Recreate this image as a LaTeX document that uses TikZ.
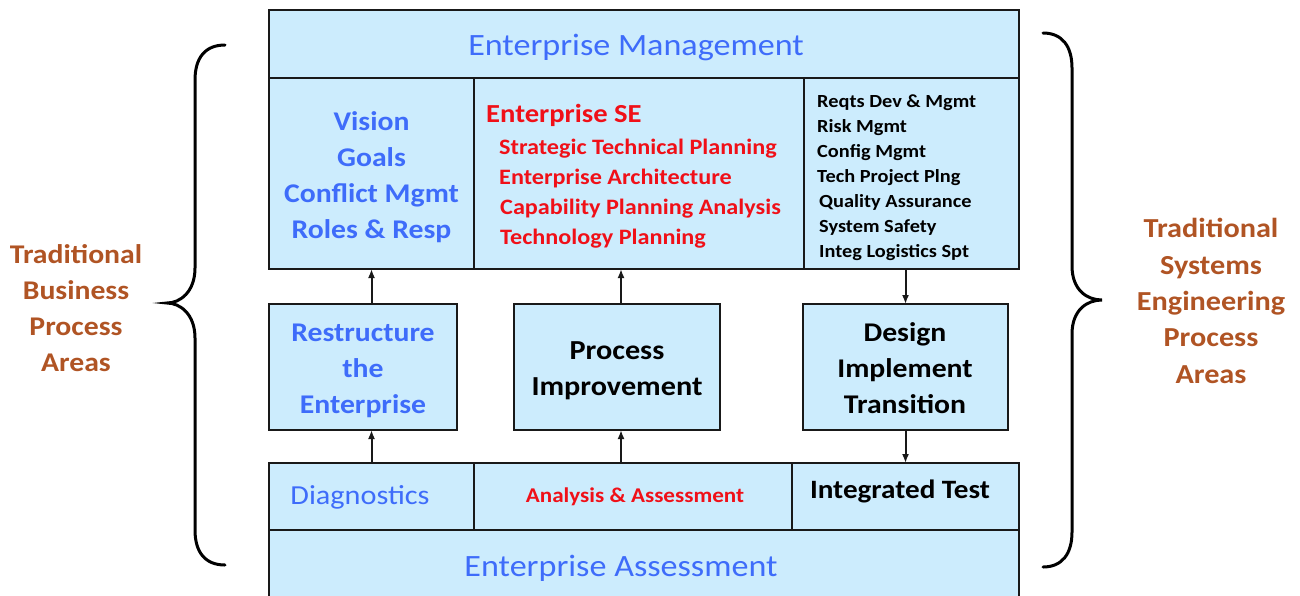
\documentclass[tikz,border=0pt]{standalone}
\usepackage{fontspec}
\setmainfont{Carlito}[FakeStretch=1.1]
\usetikzlibrary{arrows.meta}
\definecolor{boxfill}{RGB}{204,236,253}
\definecolor{bluetxt}{RGB}{62,108,250}
\definecolor{redtxt}{RGB}{240,16,24}
\definecolor{browntxt}{RGB}{176,84,36}
\definecolor{edgec}{RGB}{25,25,25}
\newcommand{\fsz}[2]{\fontsize{#1}{#2}\selectfont}
\tikzset{
  box/.style={draw=edgec, line width=2pt, fill=boxfill, inner sep=0pt, outer sep=0pt, anchor=north west},
  txt/.style={inner sep=0pt, align=center},
  arr/.style={draw=edgec, line width=2pt, -{Latex[length=9pt,width=7pt]}},
  brace/.style={draw=black, line width=3pt, line cap=round},
}
\begin{document}
\begin{tikzpicture}[x=1pt,y=-1pt]
\useasboundingbox (0,0) rectangle (1300,595);
\clip (0,0) rectangle (1300,595);
% boxes
\node[box, minimum width=750, minimum height=68] (em) at (269,10) {};
\node[box, minimum width=205, minimum height=191] (ent1) at (269,78) {};
\node[box, minimum width=330, minimum height=191] (ent2) at (474,78) {};
\node[box, minimum width=215, minimum height=191] (ent3) at (804,78) {};
\node[box, minimum width=188, minimum height=126] (res) at (269,304) {};
\node[box, minimum width=206, minimum height=126] (pi) at (514,304) {};
\node[box, minimum width=205, minimum height=126] (dit) at (803,304) {};
\node[box, minimum width=205, minimum height=67] (diagbox) at (269,463) {};
\node[box, minimum width=318, minimum height=67] (aabox) at (474,463) {};
\node[box, minimum width=227, minimum height=67] (itbox) at (792,463) {};
\node[box, minimum width=750, minimum height=80] (ea) at (269,530) {};
% texts
\node[txt, text=bluetxt, font=\fsz{31}{36}] (emt) at (636,47) {Enterprise Management};
\node[txt, text=bluetxt, font=\fsz{27}{36}\bfseries] (vis) at (371.5,177) {Vision\\Goals\\Conflict Mgmt\\Roles \& Resp};
\node[txt, anchor=west, text=redtxt, font=\fsz{26}{30}\bfseries] (ese) at (486,115) {Enterprise SE};
\node[txt, anchor=west, align=left, text=redtxt, font=\fsz{22}{30}\bfseries] (eselist) at (499,194) {Strategic Technical Planning\\Enterprise Architecture\\\hspace*{1pt}Capability Planning Analysis\\\hspace*{1pt}Technology Planning};
\node[txt, anchor=west, align=left, text=black, font=\fsz{18.5}{25}\bfseries] (tselist) at (817,178) {Reqts Dev \& Mgmt\\Risk Mgmt\\Config Mgmt\\Tech Project Plng\\\hspace*{2pt}Quality Assurance\\\hspace*{2pt}System Safety\\\hspace*{2pt}Integ Logistics Spt};
\node[txt, text=bluetxt, font=\fsz{27}{36}\bfseries] (rest) at (363,371) {Restructure\\the\\Enterprise};
\node[txt, text=black, font=\fsz{27.5}{36}\bfseries] (pit) at (617,371) {Process\\Improvement};
\node[txt, text=black, font=\fsz{27}{36}\bfseries] (ditt) at (905,368) {Design\\Implement\\Transition};
\node[txt, text=bluetxt, font=\fsz{27.5}{33}] (diag) at (360,497) {Diagnostics};
\node[txt, text=redtxt, font=\fsz{21}{26}\bfseries] (aat) at (635,497) {Analysis \& Assessment};
\node[txt, text=black, font=\fsz{26.5}{32}\bfseries] (itt) at (900,491) {Integrated Test};
\node[txt, text=bluetxt, font=\fsz{31}{36}] (eat) at (621,568) {Enterprise Assessment};
\node[txt, text=browntxt, font=\fsz{27}{36}\bfseries] (left) at (76,308) {Traditional\\Business\\Process\\Areas};
\node[txt, text=browntxt, font=\fsz{27.5}{36.3}\bfseries] (right) at (1211,301) {Traditional\\Systems\\Engineering\\Process\\Areas};
% arrows
\draw[arr] (ent1.south |- res.north) -- (ent1.south);
\draw[arr] (ent1.south |- diagbox.north) -- (ent1.south |- res.south);
\draw[arr] ([xshift=4pt]pi.north) -- ([xshift=4pt]pi.north |- ent2.south);
\draw[arr] ([xshift=4pt]pi.south |- aabox.north) -- ([xshift=4pt]pi.south);
\draw[arr] (dit.north |- ent3.south) -- (dit.north);
\draw[arr] (dit.south) -- (dit.south |- itbox.north);
% braces
\draw[brace] (225,45) .. controls (205,45) and (195,58) .. (195,80) -- (195,268)
  .. controls (195,292) and (180,303) .. (167,303)
  .. controls (180,303) and (195,314) .. (195,338) -- (195,530)
  .. controls (195,552) and (205,565) .. (225,565);
\draw[brace] (1043,33) .. controls (1062,33) and (1072,46) .. (1072,68) -- (1072,266)
  .. controls (1072,290) and (1087,300) .. (1102,300)
  .. controls (1087,300) and (1072,310) .. (1072,334) -- (1072,532)
  .. controls (1072,554) and (1062,567) .. (1043,567);
\end{tikzpicture}
\end{document}
